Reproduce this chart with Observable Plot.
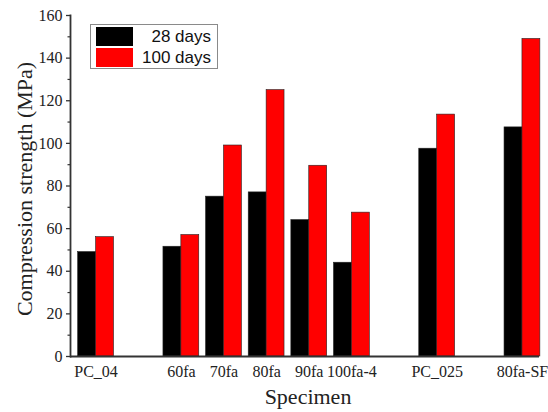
<!DOCTYPE html>
<html>
<head>
<meta charset="utf-8">
<script src="https://cdn.jsdelivr.net/npm/d3@7"></script>
<script src="https://cdn.jsdelivr.net/npm/@observablehq/plot@0.6"></script>
<style>
  html, body { margin: 0; padding: 0; background: #fff; }
  #wrap { position: relative; width: 548px; height: 412px; }
  #legend { position: absolute; left: 90px; top: 24px; width: 126px; height: 43px;
    border: 1px solid #8a8a8a; background: #fff; box-sizing: content-box;
    font-family: "Liberation Sans", Arial, sans-serif; font-size: 17px; color: #111; }
  .row { position: absolute; left: 5px; height: 19px; width: 115px; }
  .sw { position: absolute; left: 0; top: 0; width: 37px; height: 19px; }
  .lab { position: absolute; right: 0; top: 0; line-height: 19px; }
</style>
</head>
<body>
<div id="wrap"></div>
<script>
// Data
const categories = ["PC_04", "60fa", "70fa", "80fa", "90fa", "100fa-4", "PC_025", "80fa-SF"];
const slots = [1, 3, 4, 5, 6, 7, 9, 11];          // position of each specimen along the x axis (gaps between groups)
const series = ["28 days", "100 days"];
const days28 = [49, 51.5, 75, 77, 64, 44, 97.5, 107.5];
const days100 = [56, 57, 99, 125, 89.5, 67.5, 113.5, 149];
const yMajorTicks = [0, 20, 40, 60, 80, 100, 120, 140, 160];
const yMinorTicks = [10, 30, 50, 70, 90, 110, 130, 150];
const colors = ["#000000", "#ff0000"];

const barW = 0.42;
const rows = [];
categories.forEach((c, i) => {
  rows.push({cat: c, slot: slots[i], series: series[0], value: days28[i], side: -1});
  rows.push({cat: c, slot: slots[i], series: series[1], value: days100[i], side: 0});
});
const nameOf = new Map(slots.map((s, i) => [s, categories[i]]));

const serif = "Liberation Serif";

const chart = Plot.plot({
  width: 548,
  height: 412,
  marginLeft: 70,
  marginRight: 9,
  marginTop: 15,
  marginBottom: 56,
  style: {background: "transparent", color: "#222", fontSize: "16px", fontFamily: serif},
  x: {type: "linear", domain: [0.4, 11.4], axis: null},
  y: {domain: [0, 160], axis: null},
  color: {domain: series, range: colors},
  marks: [
    Plot.rectY(rows, {
      x1: d => d.slot + d.side * barW,
      x2: d => d.slot + (d.side + 1) * barW,
      y: "value",
      fill: "series",
      stroke: "#222",
      strokeWidth: 0.6
    }),
    Plot.axisY({ticks: yMajorTicks, tickSize: 4, tickPadding: 4, fontSize: 16,
      label: null, stroke: "#333", strokeWidth: 1.3}),
    Plot.axisY({ticks: yMinorTicks, tickSize: 2.5, tickFormat: () => "", label: null,
      stroke: "#333", strokeWidth: 1.2}),
    Plot.axisX({ticks: slots, tickFormat: s => nameOf.get(s), tickSize: 0, tickPadding: 9,
      fontSize: 16, label: null}),
    Plot.ruleY([0], {stroke: "#333", strokeWidth: 1.8}),
    Plot.frame({anchor: "left", stroke: "#333", strokeWidth: 1.8}),
    Plot.text(["Compression strength (MPa)"], {frameAnchor: "left", rotate: -90, dx: -46, dy: 3,
      textAnchor: "middle", fontSize: 22, fontFamily: serif, fill: "#222"}),
    Plot.text(["Specimen"], {frameAnchor: "bottom", dy: 47, dx: 3,
      textAnchor: "middle", fontSize: 22, fontFamily: serif, fill: "#222"})
  ]
});

// make every SVG text use the serif face of the reference
d3.select(chart).attr("font-family", serif).style("font-family", serif);
d3.select(chart).selectAll("g").filter(function() { return this.hasAttribute("font-family"); })
  .attr("font-family", serif);
d3.select(chart).selectAll("text").style("font-family", serif).attr("font-family", serif);

const wrap = document.getElementById("wrap");
wrap.appendChild(chart);

// Legend overlay
const legend = document.createElement("div");
legend.id = "legend";
series.forEach((s, i) => {
  const row = document.createElement("div");
  row.className = "row";
  row.style.top = (2 + i * 21) + "px";
  const sw = document.createElement("div");
  sw.className = "sw";
  sw.style.background = colors[i];
  const lab = document.createElement("div");
  lab.className = "lab";
  lab.textContent = s;
  row.appendChild(sw);
  row.appendChild(lab);
  legend.appendChild(row);
});
wrap.appendChild(legend);
</script>
</body>
</html>
